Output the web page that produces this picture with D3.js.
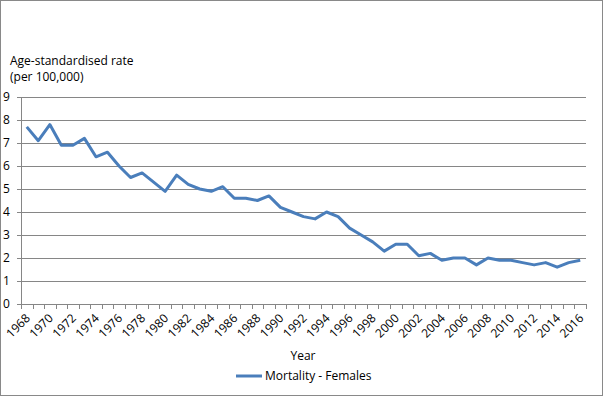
<!doctype html>
<html>
<head>
<style>
body { margin: 0; background: #fff; }
text { font-family: "Open Sans", "Liberation Sans", sans-serif; fill: #000; }
</style>
<script src="https://d3js.org/d3.v7.min.js"></script>
</head>
<body>
<svg width="603" height="396"></svg>
<script>
var years = d3.range(1968, 2017);
var rates = [7.7, 7.1, 7.8, 6.9, 6.9, 7.2, 6.4, 6.6, 6.0, 5.5,
	5.7, 5.3, 4.9, 5.6, 5.2, 5.0, 4.9, 5.1, 4.6, 4.6,
	4.5, 4.7, 4.2, 4.0, 3.8, 3.7, 4.0, 3.8, 3.3, 3.0,
	2.7, 2.3, 2.6, 2.6, 2.1, 2.2, 1.9, 2.0, 2.0, 1.7,
	2.0, 1.9, 1.9, 1.8, 1.7, 1.8, 1.6, 1.8, 1.9];
var yTicks = [0, 1, 2, 3, 4, 5, 6, 7, 8, 9];
var seriesName = "Mortality - Females";

var svg = d3.select("svg");
var plotLeft = 21, plotRight = 586, plotTop = 97, plotBottom = 304;

svg.append("rect").attr("x", 0.5).attr("y", 0.5).attr("width", 602).attr("height", 395)
	.attr("fill", "#fff").attr("stroke", "#898989");

var x = d3.scaleBand().domain(years).range([plotLeft, plotRight]);
var y = d3.scaleLinear().domain([0, 9]).range([plotBottom, plotTop]);

// gridlines
svg.append("g").selectAll("line").data(yTicks.slice(1)).enter().append("line")
	.attr("x1", plotLeft).attr("x2", plotRight)
	.attr("y1", function(d) { return Math.round(y(d)) + 0.5; })
	.attr("y2", function(d) { return Math.round(y(d)) + 0.5; })
	.attr("stroke", "#868686").attr("stroke-width", 1);

// y axis
svg.append("line").attr("x1", plotLeft + 0.5).attr("x2", plotLeft + 0.5).attr("y1", plotTop).attr("y2", plotBottom)
	.attr("stroke", "#868686");
svg.append("g").selectAll("line").data(yTicks).enter().append("line")
	.attr("x1", plotLeft - 4).attr("x2", plotLeft)
	.attr("y1", function(d) { return Math.round(y(d)) + 0.5; })
	.attr("y2", function(d) { return Math.round(y(d)) + 0.5; })
	.attr("stroke", "#868686");
svg.append("g").selectAll("text").data(yTicks).enter().append("text")
	.attr("x", 3).attr("y", function(d) { return y(d) + 4; })
	.attr("font-size", "12px").text(function(d) { return d; });

// x axis
svg.append("line").attr("x1", plotLeft).attr("x2", plotRight).attr("y1", plotBottom + 0.5).attr("y2", plotBottom + 0.5)
	.attr("stroke", "#868686");
var edges = years.map(function(d) { return x(d); }).concat([plotRight]);
svg.append("g").selectAll("line").data(edges).enter().append("line")
	.attr("x1", function(d) { return Math.round(d) + 0.5; })
	.attr("x2", function(d) { return Math.round(d) + 0.5; })
	.attr("y1", plotBottom).attr("y2", plotBottom + 5)
	.attr("stroke", "#868686");
svg.append("g").selectAll("text").data(years.filter(function(d) { return d % 2 == 0; }))
	.enter().append("text")
	.attr("font-size", "12px").attr("text-anchor", "end")
	.attr("transform", function(d) {
		return "translate(" + (x(d) + x.bandwidth() / 2 + 4) + "," + (plotBottom + 15) + ") rotate(-45)";
	})
	.text(function(d) { return d; });

// series
var line = d3.line()
	.x(function(d, i) { return x(years[i]) + x.bandwidth() / 2; })
	.y(function(d) { return y(d); });
svg.append("path").datum(rates).attr("d", line)
	.attr("fill", "none").attr("stroke", "#4a7ebb").attr("stroke-width", 3)
	.attr("stroke-linejoin", "round");

// titles
svg.append("text").attr("x", 10).attr("y", 65).attr("font-size", "12px").text("Age-standardised rate");
svg.append("text").attr("x", 10).attr("y", 81).attr("font-size", "12px").text("(per 100,000)");
svg.append("text").attr("x", 303).attr("y", 360).attr("text-anchor", "middle").attr("font-size", "12px").text("Year");

// legend
svg.append("line").attr("x1", 236).attr("x2", 262).attr("y1", 376).attr("y2", 376)
	.attr("stroke", "#4a7ebb").attr("stroke-width", 3);
svg.append("text").attr("x", 265).attr("y", 380).attr("font-size", "12px").text(seriesName);
</script>
</body>
</html>
